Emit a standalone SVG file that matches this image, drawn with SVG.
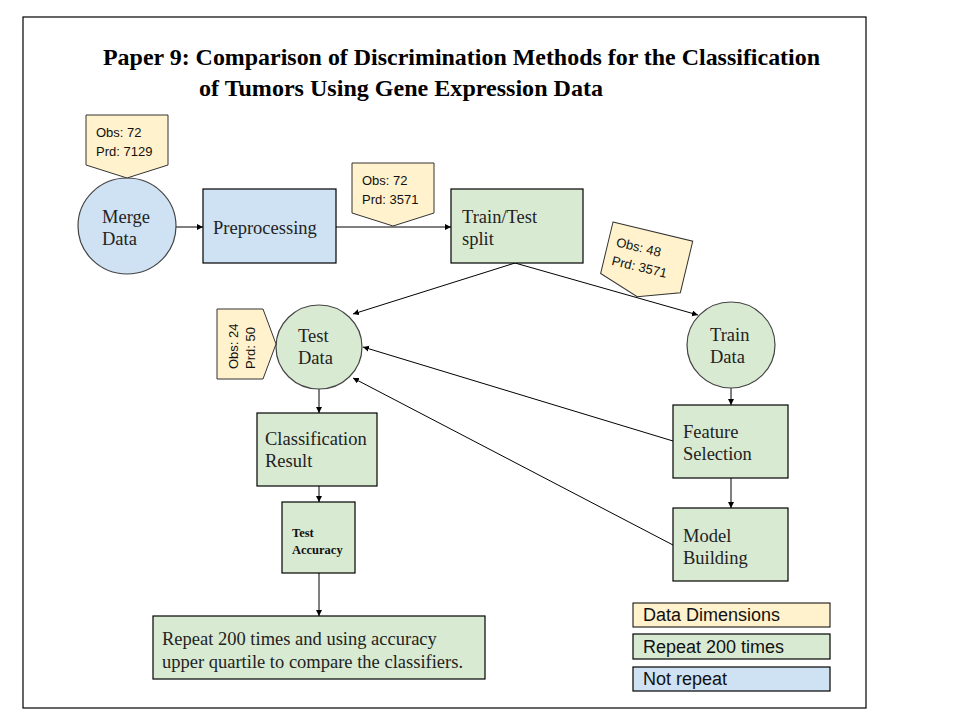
<svg xmlns="http://www.w3.org/2000/svg" width="960" height="720" viewBox="0 0 960 720">
<style>
.blue{fill:#cfe2f3;stroke:#000;stroke-width:1.2}
.green{fill:#d9ead3;stroke:#000;stroke-width:1.2}
.circ{stroke:#444;stroke-width:1.2}
.tag{fill:#fff2cc;stroke:#333;stroke-width:1}
.node{font-family:"Liberation Serif","Times New Roman",serif;font-size:18.5px;fill:#222}
.small{font-family:"Liberation Serif","Times New Roman",serif;font-size:12.5px;font-weight:bold;fill:#111}
.tagt{font-family:"Liberation Sans",Arial,sans-serif;font-size:13px;fill:#111}
.leg{font-family:"Liberation Sans",Arial,sans-serif;font-size:18px;fill:#111}
.title{font-family:"Liberation Serif","Times New Roman",serif;font-size:24px;font-weight:bold;fill:#000}
.conn line{stroke:#000;stroke-width:1;marker-end:url(#ah)}
</style>
<defs>
<marker id="ah" markerUnits="userSpaceOnUse" markerWidth="8" markerHeight="8" refX="6" refY="3" orient="auto">
<path d="M0,0 L6,3 L0,6 z" fill="#000"/>
</marker>
</defs>
<rect x="0" y="0" width="960" height="720" fill="#fff"/>
<rect x="23" y="17" width="843" height="691" fill="none" stroke="#000" stroke-width="1.2"/>
<g id="title">
<text class="title" x="103" y="65" textLength="717" lengthAdjust="spacingAndGlyphs">Paper 9: Comparison of Discrimination Methods for the Classification</text>
<text class="title" x="199" y="96" textLength="404" lengthAdjust="spacingAndGlyphs">of Tumors Using Gene Expression Data</text>
</g>
<g class="conn" id="connectors">
<line x1="176" y1="227" x2="203" y2="227"/>
<line x1="336" y1="227" x2="451" y2="227"/>
<line x1="515" y1="263" x2="353" y2="314"/>
<line x1="515" y1="263" x2="698" y2="315"/>
<line x1="673" y1="441" x2="363" y2="347"/>
<line x1="673" y1="545" x2="353" y2="378"/>
<line x1="319" y1="389" x2="319" y2="413"/>
<line x1="731" y1="388" x2="731" y2="405"/>
<line x1="731" y1="478" x2="731" y2="508"/>
<line x1="319" y1="486" x2="319" y2="502"/>
<line x1="319" y1="573" x2="319" y2="616"/>
</g>
<g id="merge-data">
<ellipse class="blue circ" cx="127" cy="226" rx="49" ry="48"/>
<text class="node" x="102" y="223">Merge</text>
<text class="node" x="102" y="245">Data</text>
</g>
<g id="tag-merge">
<polygon class="tag" points="86,115 168,115 168,165 127,178 86,165"/>
<text class="tagt" x="96" y="137">Obs: 72</text>
<text class="tagt" x="96" y="156">Prd: 7129</text>
</g>
<g id="preprocessing">
<rect class="blue" x="203" y="189" width="133" height="74"/>
<text class="node" x="213" y="234">Preprocessing</text>
</g>
<g id="tag-pre">
<polygon class="tag" points="352,163 434,163 434,213 393,226 352,213"/>
<text class="tagt" x="362" y="185">Obs: 72</text>
<text class="tagt" x="362" y="204">Prd: 3571</text>
</g>
<g id="train-test-split">
<rect class="green" x="451" y="189" width="132" height="74"/>
<text class="node" x="462" y="223">Train/Test</text>
<text class="node" x="462" y="245">split</text>
</g>
<g id="tag-train" transform="translate(613,222) rotate(13.5)">
<polygon class="tag" points="0,0 82,0 82,53 41,67 0,53"/>
<text class="tagt" x="8" y="23">Obs: 48</text>
<text class="tagt" x="8" y="42">Prd: 3571</text>
</g>
<g id="test-data">
<ellipse class="green circ" cx="319" cy="347" rx="43" ry="42"/>
<text class="node" x="298" y="342">Test</text>
<text class="node" x="298" y="364">Data</text>
</g>
<g id="tag-test" transform="translate(217,379) rotate(-90)">
<polygon class="tag" points="0,0 70,0 70,46 35,59 0,46"/>
<text class="tagt" x="10" y="21">Obs: 24</text>
<text class="tagt" x="10" y="38">Prd: 50</text>
</g>
<g id="train-data">
<ellipse class="green circ" cx="731" cy="345" rx="44" ry="43"/>
<text class="node" x="710" y="341">Train</text>
<text class="node" x="710" y="363">Data</text>
</g>
<g id="feature-selection">
<rect class="green" x="673" y="405" width="115" height="73"/>
<text class="node" x="683" y="438">Feature</text>
<text class="node" x="683" y="460">Selection</text>
</g>
<g id="model-building">
<rect class="green" x="673" y="508" width="115" height="73"/>
<text class="node" x="683" y="542">Model</text>
<text class="node" x="683" y="564">Building</text>
</g>
<g id="classification-result">
<rect class="green" x="257" y="413" width="120" height="73"/>
<text class="node" x="265" y="445">Classification</text>
<text class="node" x="265" y="467">Result</text>
</g>
<g id="test-accuracy">
<rect class="green" x="282" y="502" width="73" height="71"/>
<text class="small" x="292" y="537">Test</text>
<text class="small" x="292" y="554">Accuracy</text>
</g>
<g id="repeat-box">
<rect class="green" x="153" y="616" width="332" height="63"/>
<text class="node" x="162" y="645">Repeat 200 times and using accuracy</text>
<text class="node" x="162" y="668">upper quartile to compare the classifiers.</text>
</g>
<g id="legend">
<rect class="tag" x="633" y="603" width="197" height="24" style="stroke:#000"/>
<text class="leg" x="643" y="621">Data Dimensions</text>
<rect class="green" x="633" y="634" width="197" height="25"/>
<text class="leg" x="643" y="653">Repeat 200 times</text>
<rect class="blue" x="633" y="667" width="197" height="24"/>
<text class="leg" x="643" y="685">Not repeat</text>
</g>
</svg>
